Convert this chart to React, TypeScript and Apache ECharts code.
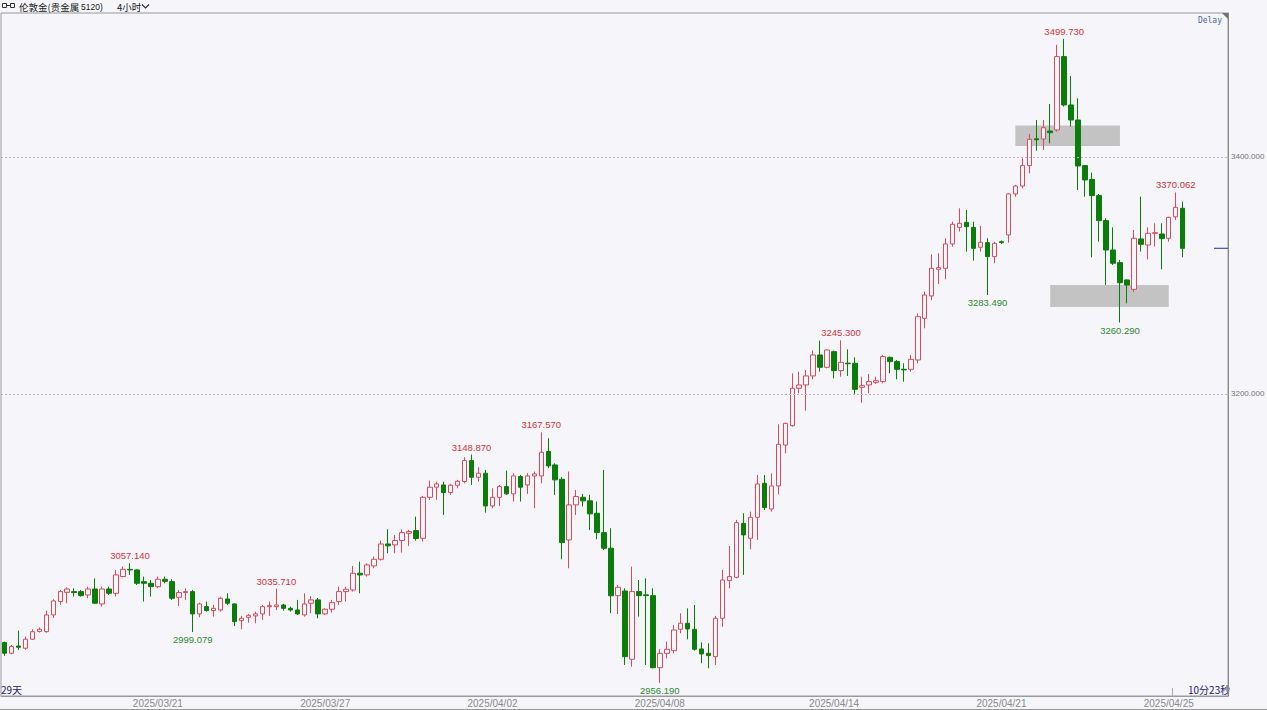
import React, { useEffect, useRef } from 'react';
import * as echarts from 'echarts';

// ---- data (4-hour candles, London gold 5120) ----
const openP = [
  2990.2, 2981.2, 2987.3, 2985.4, 2993.0, 2999.6, 2999.4, 3013.5, 3024.8, 3032.6,
  3033.2, 3033.2, 3030.4, 3035.4, 3022.8, 3035.4, 3031.8, 3045.9, 3052.0, 3051.5,
  3041.6, 3040.2, 3037.4, 3043.6, 3041.6, 3028.4, 3032.4, 3033.2, 3014.4, 3020.5,
  3017.2, 3017.7, 3027.0, 3022.8, 3008.7, 3011.5, 3012.7, 3014.4, 3020.5, 3020.5,
  3021.9, 3019.1, 3017.7, 3013.5, 3023.4, 3026.2, 3014.4, 3018.3, 3024.8, 3033.2,
  3034.6, 3048.7, 3047.3, 3054.9, 3060.5, 3073.4, 3072.6, 3076.3, 3082.4, 3084.7,
  3078.2, 3112.8, 3121.3, 3123.2, 3116.8, 3123.0, 3126.1, 3143.8, 3129.7, 3133.1,
  3105.5, 3112.8, 3121.8, 3115.7, 3130.3, 3123.2, 3130.8, 3130.8, 3151.4, 3140.1,
  3128.0, 3076.8, 3106.4, 3112.8, 3109.8, 3099.3, 3083.0, 3069.8, 3029.8, 3033.7,
  2976.1, 3033.2, 3030.5, 3029.8, 2969.0, 2981.1, 2983.4, 3001.4, 3006.5, 3001.4,
  2984.8, 2981.1, 2978.3, 3010.7, 3042.5, 3045.3, 3090.8, 3078.2, 3095.9, 3124.6,
  3102.9, 3122.4, 3156.9, 3173.3, 3204.8, 3207.6, 3215.2, 3232.9, 3222.5, 3235.7,
  3219.7, 3226.0, 3225.9, 3205.6, 3207.6, 3209.8, 3210.4, 3230.9, 3227.3, 3220.8,
  3220.8, 3228.7, 3263.8, 3282.7, 3305.2, 3306.0, 3326.6, 3340.6, 3344.8, 3340.6,
  3323.8, 3327.7, 3315.9, 3328.5, 3334.2, 3368.8, 3375.5, 3392.7, 3415.3, 3415.2,
  3421.9, 3422.8, 3484.7, 3443.9, 3431.2, 3392.7, 3381.1, 3367.4, 3346.3, 3321.5,
  3310.8, 3296.2, 3288.3, 3330.8, 3325.7, 3335.6, 3335.0, 3331.4, 3349.5, 3356.7,
];
const closeP = [
  2981.2, 2986.8, 2986.2, 2993.0, 2999.4, 3001.4, 3013.5, 3025.3, 3033.2, 3035.4,
  3032.4, 3029.8, 3035.4, 3023.4, 3035.4, 3031.8, 3047.3, 3052.0, 3051.5, 3040.2,
  3040.2, 3037.4, 3043.6, 3041.9, 3027.6, 3032.4, 3033.2, 3014.4, 3022.8, 3017.2,
  3019.1, 3027.6, 3023.4, 3007.9, 3010.7, 3013.2, 3014.4, 3020.5, 3021.4, 3021.9,
  3019.1, 3017.7, 3014.4, 3022.8, 3026.2, 3014.4, 3018.3, 3023.9, 3033.2, 3035.2,
  3048.7, 3047.3, 3055.7, 3060.5, 3073.4, 3071.8, 3076.3, 3083.0, 3083.9, 3078.0,
  3112.8, 3121.3, 3124.1, 3116.8, 3123.0, 3126.3, 3143.8, 3129.7, 3133.1, 3105.5,
  3112.8, 3121.8, 3115.7, 3130.8, 3121.3, 3130.8, 3132.5, 3150.8, 3139.3, 3127.5,
  3074.6, 3106.4, 3113.4, 3109.8, 3098.8, 3083.0, 3069.8, 3029.7, 3036.8, 2978.3,
  3033.2, 3029.8, 3029.8, 2969.0, 2981.1, 2984.5, 3000.8, 3006.5, 3001.7, 2984.5,
  2980.6, 2979.2, 3010.7, 3043.0, 3045.9, 3091.4, 3081.0, 3095.9, 3124.0, 3104.1,
  3122.4, 3157.5, 3175.2, 3204.8, 3207.6, 3215.2, 3232.9, 3222.5, 3237.1, 3219.7,
  3226.7, 3225.5, 3203.9, 3207.0, 3210.4, 3211.2, 3231.5, 3227.3, 3220.8, 3220.3,
  3229.2, 3265.2, 3283.5, 3306.0, 3306.6, 3326.6, 3343.2, 3344.0, 3341.2, 3322.9,
  3328.0, 3315.9, 3327.1, 3327.7, 3368.8, 3375.5, 3392.7, 3414.9, 3414.6, 3424.7,
  3420.5, 3484.7, 3443.9, 3431.2, 3392.4, 3380.6, 3367.4, 3346.3, 3321.5, 3310.3,
  3293.9, 3291.9, 3331.4, 3326.3, 3335.6, 3336.1, 3331.1, 3349.0, 3357.5, 3322.9,
];
const highP = [
  2991.0, 2988.2, 3000.3, 2995.2, 3001.4, 3003.0, 3017.2, 3026.7, 3034.6, 3036.9,
  3036.0, 3034.6, 3037.4, 3044.4, 3037.4, 3037.4, 3051.5, 3054.3, 3057.14, 3052.0,
  3045.9, 3043.0, 3045.9, 3045.9, 3043.6, 3034.6, 3036.0, 3034.6, 3023.9, 3024.8,
  3021.9, 3029.0, 3031.8, 3023.4, 3012.7, 3014.4, 3016.3, 3021.9, 3024.8, 3035.71,
  3022.8, 3020.5, 3026.2, 3031.8, 3029.5, 3027.8, 3019.2, 3026.2, 3037.4, 3037.4,
  3054.9, 3058.5, 3057.1, 3062.8, 3076.3, 3085.8, 3081.0, 3085.8, 3085.3, 3096.5,
  3114.0, 3126.9, 3126.0, 3126.0, 3124.1, 3127.5, 3146.6, 3148.87, 3138.2, 3135.9,
  3120.4, 3123.2, 3135.3, 3133.1, 3131.7, 3133.1, 3134.5, 3167.57, 3162.6, 3141.5,
  3129.7, 3134.5, 3119.0, 3115.7, 3114.8, 3109.2, 3135.9, 3086.7, 3038.8, 3036.0,
  3054.3, 3043.0, 3044.4, 3036.0, 2984.5, 2991.0, 3005.0, 3014.9, 3019.1, 3021.9,
  2990.4, 2989.6, 3012.7, 3051.5, 3071.7, 3093.7, 3099.3, 3100.7, 3131.6, 3131.6,
  3133.0, 3174.4, 3175.8, 3217.4, 3218.8, 3220.2, 3236.6, 3245.0, 3237.7, 3236.6,
  3245.3, 3237.7, 3230.9, 3214.6, 3216.9, 3214.6, 3232.9, 3231.5, 3228.7, 3225.9,
  3232.9, 3268.0, 3286.3, 3317.8, 3318.7, 3331.4, 3345.4, 3356.7, 3355.3, 3345.4,
  3341.8, 3331.4, 3328.5, 3329.4, 3369.3, 3376.4, 3398.9, 3419.4, 3431.2, 3431.2,
  3444.7, 3494.5, 3499.73, 3468.3, 3449.5, 3393.2, 3386.8, 3368.8, 3348.2, 3340.6,
  3313.1, 3296.8, 3338.4, 3366.5, 3340.6, 3344.0, 3344.0, 3349.6, 3370.062, 3362.3,
];
const lowP = [
  2979.0, 2980.3, 2984.0, 2984.0, 2992.4, 2998.6, 2998.6, 3011.0, 3022.0, 3023.4,
  3029.0, 3029.0, 3027.6, 3022.8, 3020.5, 3030.4, 3029.0, 3045.3, 3047.3, 3038.8,
  3024.8, 3029.0, 3036.0, 3040.2, 3026.2, 3021.1, 3026.2, 2999.079, 3011.5, 3016.3,
  3012.1, 3016.3, 3022.0, 3004.2, 3001.4, 3007.0, 3006.5, 3009.3, 3012.7, 3017.7,
  3017.2, 3016.3, 3013.5, 3012.1, 3014.9, 3010.7, 3013.5, 3015.5, 3022.0, 3024.8,
  3033.2, 3031.8, 3045.9, 3052.9, 3059.4, 3065.6, 3065.6, 3066.1, 3071.8, 3076.3,
  3075.4, 3110.6, 3110.6, 3097.9, 3114.8, 3120.4, 3124.6, 3123.2, 3126.1, 3099.9,
  3103.6, 3105.5, 3114.8, 3109.2, 3109.2, 3115.7, 3103.6, 3124.6, 3137.3, 3114.8,
  3060.5, 3052.9, 3097.9, 3105.0, 3085.3, 3077.4, 3068.4, 3015.0, 3014.3, 2971.3,
  2969.9, 3012.1, 2971.3, 2968.5, 2956.19, 2976.9, 2981.1, 2998.0, 2992.9, 2983.4,
  2972.7, 2968.5, 2971.3, 3003.6, 3036.0, 3044.4, 3047.3, 3068.9, 3076.8, 3102.1,
  3100.7, 3115.3, 3149.9, 3172.4, 3200.6, 3185.9, 3212.4, 3218.8, 3221.6, 3213.2,
  3214.6, 3215.2, 3200.0, 3192.7, 3200.6, 3208.4, 3209.0, 3217.4, 3212.4, 3210.4,
  3218.8, 3225.9, 3255.4, 3279.3, 3292.8, 3296.8, 3324.3, 3337.0, 3320.1, 3312.5,
  3320.1, 3283.49, 3310.3, 3326.6, 3327.7, 3366.5, 3373.5, 3386.2, 3405.3, 3405.9,
  3411.5, 3421.4, 3442.5, 3425.6, 3372.1, 3366.5, 3315.3, 3328.5, 3292.0, 3308.9,
  3260.29, 3276.5, 3286.3, 3320.1, 3313.6, 3324.3, 3305.2, 3328.5, 3346.8, 3315.3,
];
const tradingDays = [
  '2025/03/17', '2025/03/18', '2025/03/19', '2025/03/20', '2025/03/21', '2025/03/24',
  '2025/03/25', '2025/03/26', '2025/03/27', '2025/03/28', '2025/03/31', '2025/04/01',
  '2025/04/02', '2025/04/03', '2025/04/04', '2025/04/07', '2025/04/08', '2025/04/09',
  '2025/04/10', '2025/04/11', '2025/04/14', '2025/04/15', '2025/04/16', '2025/04/17',
  '2025/04/21', '2025/04/22', '2025/04/23', '2025/04/24', '2025/04/25',
];
const candlesPerDay = [4, 6, 6, 6, 6, 6, 6, 6, 6, 6, 6, 6, 6, 6, 6, 6, 6, 6, 6, 7, 6, 6, 6, 6, 6, 6, 6, 6, 3];
const labelDays = ['2025/03/21', '2025/03/27', '2025/04/02', '2025/04/08', '2025/04/14', '2025/04/21', '2025/04/25'];
const yTicks = [3200, 3400];
const extremes: [number, 'high' | 'low'][] = [
  [18, 'high'], [27, 'low'], [39, 'high'], [67, 'high'], [77, 'high'], [94, 'low'],
  [120, 'high'], [141, 'low'], [152, 'high'], [160, 'low'], [168, 'high'],
];
const zones = [
  { from: 145, to: 160, top: 3426.5, bottom: 3409.3 },
  { from: 150, to: 167, top: 3292.0, bottom: 3273.3 },
];
const EMPTY_SLOTS = 6;

const BG = '#f5f5fa';
const UP = '#da4a5e';
const DOWN = '#0a7d0a';

export default function App() {
  const ref = useRef<HTMLDivElement>(null);
  useEffect(() => {
    document.body.style.margin = '0';
    const chart = echarts.init(ref.current!, undefined, { renderer: 'svg' });

    const categories: string[] = [];
    const firstIdx: Record<string, number> = {};
    tradingDays.forEach((d, di) => {
      firstIdx[d] = categories.length;
      for (let k = 0; k < candlesPerDay[di]; k++) categories.push(`${d} ${k + 1}`);
    });
    for (let k = 0; k < EMPTY_SLOTS; k++) categories.push(`pad ${k}`);
    const labelSet = new Set(labelDays.map((d) => firstIdx[d]));

    const kdata = openP.map((o, i) => [o, closeP[i], lowP[i], highP[i]]);

    chart.setOption({
      animation: false,
      backgroundColor: BG,
      grid: {
        left: 1, right: 39, top: 13, bottom: 14,
        show: true, borderColor: '#9a9a9a', borderWidth: 1,
      },
      xAxis: {
        type: 'category',
        data: categories,
        boundaryGap: true,
        axisLine: { show: true, lineStyle: { color: '#9a9a9a' } },
        axisTick: { show: false },
        splitLine: { show: false },
        axisLabel: {
          interval: (index: number) => labelSet.has(index),
          formatter: (v: string) => v.split(' ')[0],
          color: '#8a8a8a',
          fontSize: 10,
          fontFamily: 'Liberation Sans',
          margin: 2,
          hideOverlap: false,
        },
      },
      yAxis: {
        type: 'value',
        position: 'right',
        min: 2945.1,
        max: 3521.5,
        axisLine: { show: true, lineStyle: { color: '#8a8a8a' } },
        axisTick: { show: false },
        axisLabel: { show: false },
        splitLine: { show: false },
      },
      series: [
        {
          type: 'candlestick',
          data: kdata,
          barWidth: 5,
          itemStyle: {
            color: BG,
            color0: DOWN,
            borderColor: UP,
            borderColor0: DOWN,
            borderWidth: 1,
          },
          markLine: {
            silent: true,
            symbol: ['none', 'none'],
            lineStyle: { color: '#b8b8c0', type: [2, 2], width: 1 },
            label: {
              position: 'end',
              distance: 3,
              color: '#777',
              fontSize: 8,
              fontFamily: 'Liberation Sans',
              formatter: (p: any) => Number(p.value).toFixed(3),
            },
            data: yTicks.map((v) => ({ yAxis: v })),
          },
          markArea: {
            silent: true,
            itemStyle: { color: '#c3c3c3', opacity: 1 },
            data: zones.map((z) => [
              { xAxis: categories[z.from], yAxis: z.top },
              { xAxis: categories[z.to], yAxis: z.bottom },
            ]),
          },
          markPoint: {
            silent: true,
            symbol: 'rect',
            symbolSize: 1,
            itemStyle: { color: 'rgba(0,0,0,0)' },
            data: extremes.map(([i, kind]) => {
              const v = kind === 'high' ? highP[i] : lowP[i];
              return {
                coord: [categories[i], v],
                value: v,
                label: {
                  show: true,
                  position: kind === 'high' ? 'top' : 'bottom',
                  distance: 2,
                  color: kind === 'high' ? '#d0343f' : '#2f8a2f',
                  fontSize: 9.5,
                  fontFamily: 'Liberation Sans',
                  formatter: v.toFixed(3),
                },
              };
            }),
          },
        },
      ],
    });

    const lastY = chart.convertToPixel({ yAxisIndex: 0 }, closeP[closeP.length - 1]) as number;

    chart.setOption({
      graphic: [
        // header icon
        { type: 'rect', shape: { x: 2.5, y: 3.5, width: 4, height: 4 }, style: { fill: 'none', stroke: '#333', lineWidth: 1 } },
        { type: 'rect', shape: { x: 10.5, y: 3.5, width: 4, height: 4 }, style: { fill: 'none', stroke: '#333', lineWidth: 1 } },
        { type: 'line', shape: { x1: 6.5, y1: 5.5, x2: 10.5, y2: 5.5 }, style: { stroke: '#333', lineWidth: 1 } },
        {
          type: 'text', x: 19, y: 7,
          style: { text: '伦敦金(贵金属', fill: '#222', font: '9.5px "Noto Sans CJK SC"', textVerticalAlign: 'middle' },
        },
        {
          type: 'text', x: 81, y: 7,
          style: { text: '5120)', fill: '#222', font: '8.5px "Liberation Sans"', textVerticalAlign: 'middle' },
        },
        {
          type: 'text', x: 117, y: 7,
          style: { text: '4小时', fill: '#222', font: '9.5px "Noto Sans CJK SC"', textVerticalAlign: 'middle' },
        },
        { type: 'polyline', shape: { points: [[142, 4.5], [145.5, 8], [149, 4.5]] }, style: { fill: 'none', stroke: '#333', lineWidth: 1.2 } },
        // corner triangle
        { type: 'polygon', shape: { points: [[1222, 13], [1228, 13], [1228, 19]] }, style: { fill: '#707070' } },
        {
          type: 'text', x: 1222, y: 20,
          style: { text: 'Delay', fill: '#4a6aa0', font: '8px "DejaVu Sans Mono"', textAlign: 'right', textVerticalAlign: 'middle' },
        },
        {
          type: 'text', x: 1, y: 689,
          style: { text: '29天', fill: '#1c2470', font: '10px "Noto Sans CJK SC"', textVerticalAlign: 'middle' },
        },
        {
          type: 'text', x: 1188, y: 689,
          style: { text: '10分23秒', fill: '#1c2470', font: '10px "Noto Sans CJK SC"', textVerticalAlign: 'middle' },
        },
        { type: 'line', shape: { x1: 1172.5, y1: 688, x2: 1172.5, y2: 696 }, style: { stroke: '#aaa', lineWidth: 1 } },
        { type: 'line', shape: { x1: 0, y1: 709.5, x2: 1267, y2: 709.5 }, style: { stroke: '#9a9a9a', lineWidth: 1 } },
        { type: 'line', shape: { x1: 1214, y1: lastY, x2: 1228, y2: lastY }, style: { stroke: '#3f4fb0', lineWidth: 1.2 } },
      ],
    });

    return () => chart.dispose();
  }, []);
  return <div ref={ref} style={{ position: 'absolute', left: 0, top: 0, width: 1267, height: 710 }} />;
}
